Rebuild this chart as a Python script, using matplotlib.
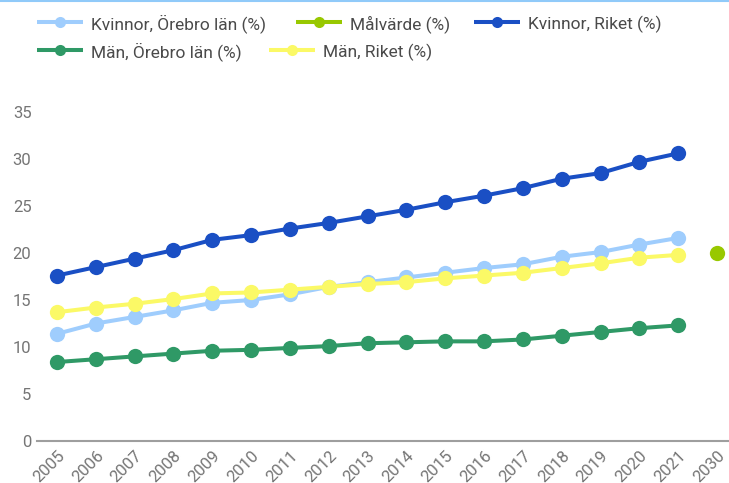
import matplotlib
matplotlib.use("Agg")
import matplotlib.pyplot as plt
from matplotlib.lines import Line2D
import numpy as np

plt.rcParams['font.family'] = ['Roboto', 'DejaVu Sans']

years = ["2005", "2006", "2007", "2008", "2009", "2010", "2011", "2012", "2013",
         "2014", "2015", "2016", "2017", "2018", "2019", "2020", "2021", "2030"]

kvinnor_orebro = [11.4, 12.5, 13.2, 13.9, 14.7, 15.0, 15.6, 16.4, 16.9,
                  17.4, 17.9, 18.4, 18.8, 19.6, 20.1, 20.9, 21.6, None]
malvarde = [None] * 17 + [20.0]
kvinnor_riket = [17.6, 18.5, 19.4, 20.3, 21.4, 21.9, 22.6, 23.2, 23.9,
                 24.6, 25.4, 26.1, 26.9, 27.9, 28.5, 29.7, 30.6, None]
man_orebro = [8.4, 8.7, 9.0, 9.3, 9.6, 9.7, 9.9, 10.1, 10.4,
              10.5, 10.6, 10.6, 10.8, 11.2, 11.6, 12.0, 12.3, None]
man_riket = [13.7, 14.2, 14.6, 15.1, 15.7, 15.8, 16.1, 16.4, 16.7,
             16.9, 17.3, 17.6, 17.9, 18.4, 18.9, 19.5, 19.8, None]
y_ticks = [0, 5, 10, 15, 20, 25, 30, 35]

series = [
    ("Kvinnor, Örebro län (%)", kvinnor_orebro, "#9fcdfd"),
    ("Målvärde (%)", malvarde, "#98c800"),
    ("Kvinnor, Riket (%)", kvinnor_riket, "#1a4fc4"),
    ("Män, Örebro län (%)", man_orebro, "#2f9966"),
    ("Män, Riket (%)", man_riket, "#fbf966"),
]

W, H = 729, 483
fig = plt.figure(figsize=(W / 100, H / 100), dpi=100)
ax = fig.add_axes([37 / W, 42 / H, (W - 37) / W, 329 / H])

x = np.arange(len(years))
draw_order = [3, 0, 4, 2, 1]
for i in draw_order:
    name, vals, col = series[i]
    v = np.array([np.nan if a is None else a for a in vals], dtype=float)
    ax.plot(x, v, color=col, lw=2.9, marker='o', ms=11, markeredgewidth=0,
            solid_capstyle='round', clip_on=False, zorder=3)

ax.set_xlim(-20 / 38.82, 17 + 12 / 38.82)
ax.set_ylim(0, 35)
ax.set_yticks(y_ticks)
ax.set_yticklabels([str(t) for t in y_ticks])
ax.set_xticks(x)
ax.set_xticklabels(years, rotation=45, ha='right', va='top', rotation_mode='anchor')
ax.tick_params(axis='both', length=0, colors='#757575', labelsize=12)
ax.tick_params(axis='y', pad=4)
ax.tick_params(axis='x', pad=5)
for s in ['top', 'right', 'left']:
    ax.spines[s].set_visible(False)
ax.spines['bottom'].set_color('#9e9e9e')
ax.spines['bottom'].set_linewidth(1.5)
ax.spines['bottom'].set_zorder(2)

# top border
fig.add_artist(Line2D([0, 1], [1 - 0.8 / H, 1 - 0.8 / H], transform=fig.transFigure,
                      color='#90caf9', lw=1.5))

# legend (flow layout)
legend_pos = [
    (37, 22), (296, 22), (474, 22),
    (37, 50), (269, 50),
]
for (name, vals, col), (lx, ly) in zip(series, legend_pos):
    yf = 1 - ly / H
    fig.add_artist(Line2D([lx / W, (lx + 46) / W], [yf, yf], transform=fig.transFigure,
                          color=col, lw=2.9, solid_capstyle='butt'))
    fig.add_artist(Line2D([(lx + 23) / W], [yf], transform=fig.transFigure,
                          color=col, marker='o', ms=8, markeredgewidth=0, lw=0))
    fig.text((lx + 54) / W, yf, name, ha='left', va='center_baseline',
             fontsize=12.5, color='#4a4a4a')

fig.savefig("out.png", dpi=100)
